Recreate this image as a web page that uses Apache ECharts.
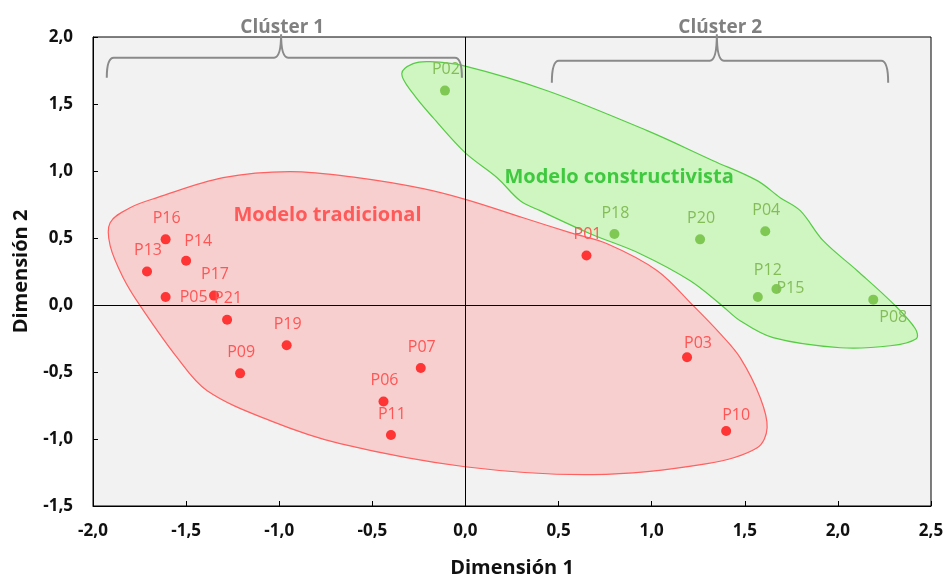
<!DOCTYPE html>
<html><head><meta charset="utf-8">
<script src="https://cdn.jsdelivr.net/npm/echarts@6/dist/echarts.min.js"></script>
<style>html,body{margin:0;padding:0;background:#fff}#c{width:947px;height:578px}</style>
</head><body><div id="c"></div>
<script>
// ---- data ----
const tradNames = ['P16','P13','P14','P05','P17','P21','P19','P09','P07','P06','P11','P01','P03','P10'];
const tradX = [-1.61,-1.71,-1.50,-1.61,-1.35,-1.28,-0.96,-1.21,-0.24,-0.44,-0.40,0.65,1.19,1.40];
const tradY = [0.49,0.25,0.33,0.06,0.07,-0.11,-0.30,-0.51,-0.47,-0.72,-0.97,0.37,-0.39,-0.94];
const consNames = ['P02','P18','P20','P04','P12','P15','P08'];
const consX = [-0.11,0.80,1.26,1.61,1.57,1.67,2.19];
const consY = [1.60,0.53,0.49,0.55,0.06,0.12,0.04];
const groupTitles = ['Modelo tradicional','Modelo constructivista'];
const clusterTitles = ['Clúster 1','Clúster 2'];
const xTitle = 'Dimensión 1';
const yTitle = 'Dimensión 2';

// ---- annotation geometry (data coordinates) ----
const redHull = [[-1.908,0.614],[-1.801,0.726],[-1.656,0.801],[-1.301,0.950],[-0.941,0.995],[-0.581,0.950],[-0.227,0.868],[0.004,0.786],[0.310,0.651],[0.562,0.540],[0.761,0.457],[1.030,0.256],[1.223,-0.005],[1.368,-0.214],[1.475,-0.393],[1.583,-0.692],[1.620,-0.916],[1.567,-1.065],[1.298,-1.184],[0.686,-1.266],[-0.002,-1.207],[-0.673,-1.035],[-1.049,-0.863],[-1.387,-0.640],[-1.548,-0.393],[-1.747,-0.005],[-1.838,0.204],[-1.908,0.443]];
const greenHull = [[-0.342,1.726],[-0.281,1.801],[-0.190,1.816],[-0.012,1.786],[0.439,1.599],[0.976,1.301],[1.330,1.077],[1.567,0.928],[1.690,0.801],[1.798,0.704],[1.921,0.480],[2.104,0.256],[2.297,0.010],[2.416,-0.177],[2.421,-0.251],[2.281,-0.304],[2.013,-0.319],[1.652,-0.244],[1.475,-0.117],[1.378,-0.005],[1.207,0.181],[0.938,0.383],[0.670,0.532],[0.401,0.704],[0.294,0.778],[0.170,0.950],[-0.002,1.137],[-0.174,1.398],[-0.281,1.577]];
const groupTitlePos = [[-0.741,0.667],[0.825,0.952]];
const brackets = [
  {xL:-1.926, xM:-0.990, xR:-0.019, yT:1.846, yB:1.696, yP:2.02, tx:-0.984, ty:2.069},
  {xL:0.464, xM:1.350, xR:2.270, yT:1.823, yB:1.659, yP:2.02, tx:1.368, ty:2.069}
];
const labelOffset = {P14:[12,-19], P05:[28,0], P15:[14,0], P08:[20,18], P03:[11,-14], P10:[10,-16], P12:[10,-27]};
const defaultOffset = [1,-21];

const FONT = '"Open Sans", "Noto Sans", sans-serif';
const RED_DOT = '#ff3434', RED_LBL = '#ff5555';
const GRN_DOT = '#80c854', GRN_LBL = '#84bd58';

function pts(names, xs, ys) {
  return names.map((n, i) => ({
    name: n, value: [xs[i], ys[i]],
    label: { offset: labelOffset[n] || defaultOffset }
  }));
}

const fmt = v => v.toFixed(1).replace('.', ',');

const chart = echarts.init(document.getElementById('c'), null, {renderer: 'canvas'});
chart.setOption({
  animation: false,
  backgroundColor: '#ffffff',
  grid: { left: 93, right: 16, top: 37, bottom: 72, containLabel: false, outerBoundsMode: 'none',
          show: true, backgroundColor: '#f2f2f2', borderColor: '#000', borderWidth: 1 },
  xAxis: {
    type: 'value', min: -2, max: 2.5, interval: 0.5,
    axisLine: { show: true, onZero: false, lineStyle: { color: '#000', width: 1 } },
    axisTick: { show: true, inside: true, length: 5, lineStyle: { color: '#000' } },
    axisLabel: { formatter: fmt, color: '#111', fontFamily: FONT, fontWeight: 'bold', fontSize: 17, margin: 17 },
    splitLine: { show: false },
    name: xTitle, nameLocation: 'middle', nameGap: 52,
    nameTextStyle: { color: '#111', fontFamily: FONT, fontWeight: 'bold', fontSize: 20 }
  },
  yAxis: {
    type: 'value', min: -1.5, max: 2, interval: 0.5,
    axisLine: { show: true, onZero: false, lineStyle: { color: '#000', width: 1 } },
    axisTick: { show: true, inside: true, length: 5, lineStyle: { color: '#000' } },
    axisLabel: { formatter: fmt, color: '#111', fontFamily: FONT, fontWeight: 'bold', fontSize: 17, margin: 20 },
    splitLine: { show: false },
    name: yTitle, nameLocation: 'middle', nameGap: 62,
    nameTextStyle: { color: '#111', fontFamily: FONT, fontWeight: 'bold', fontSize: 20 }
  },
  series: [
    {
      type: 'custom', coordinateSystem: 'cartesian2d', silent: true, z: 1,
      data: [[0, 0], [1, 0]],
      renderItem(params, api) {
        const i = params.dataIndex;
        const hull = i === 0 ? redHull : greenHull;
        return {
          type: 'polygon',
          shape: { points: hull.map(p => api.coord(p)), smooth: 0.35 },
          style: i === 0
            ? { fill: '#f7cfcf', stroke: '#ff6060', lineWidth: 1.2 }
            : { fill: '#cff5c1', stroke: '#55cc44', lineWidth: 1.2 }
        };
      }
    },
    {
      type: 'scatter', data: [], z: 2, silent: true,
      markLine: {
        silent: true, symbol: 'none', animation: false,
        label: { show: false },
        lineStyle: { color: '#000', width: 1, type: 'solid' },
        data: [{ xAxis: 0 }, { yAxis: 0 }]
      }
    },
    {
      type: 'scatter', name: groupTitles[0], z: 3, symbolSize: 10,
      itemStyle: { color: RED_DOT, opacity: 1 },
      label: { show: true, position: 'inside', formatter: '{b}', color: RED_LBL, fontFamily: FONT, fontSize: 16 },
      data: pts(tradNames, tradX, tradY)
    },
    {
      type: 'scatter', name: groupTitles[1], z: 3, symbolSize: 10,
      itemStyle: { color: GRN_DOT, opacity: 1 },
      label: { show: true, position: 'inside', formatter: '{b}', color: GRN_LBL, fontFamily: FONT, fontSize: 16 },
      data: pts(consNames, consX, consY)
    },
    {
      type: 'custom', coordinateSystem: 'cartesian2d', silent: true, z: 4, clip: false,
      data: [[0, 0]],
      renderItem(params, api) {
        const children = [];
        groupTitles.forEach((t, i) => {
          const p = api.coord(groupTitlePos[i]);
          children.push({
            type: 'text', x: p[0], y: p[1],
            style: { text: t, fill: i === 0 ? '#ff5a5a' : '#3fc93f', fontFamily: FONT, fontWeight: 'bold', fontSize: 20, align: 'center', verticalAlign: 'middle' }
          });
        });
        brackets.forEach((b, i) => {
          const L = api.coord([b.xL, b.yB]), LT = api.coord([b.xL, b.yT]);
          const M = api.coord([b.xM, b.yT]), P = api.coord([b.xM, b.yP]);
          const R = api.coord([b.xR, b.yB]), RT = api.coord([b.xR, b.yT]);
          const r = 7;
          const d = `M${L[0]} ${L[1]} Q${LT[0]} ${LT[1]} ${LT[0]+r} ${LT[1]} L${M[0]-r} ${M[1]} Q${M[0]} ${M[1]} ${P[0]} ${P[1]} Q${M[0]} ${M[1]} ${M[0]+r} ${M[1]} L${RT[0]-r} ${RT[1]} Q${RT[0]} ${RT[1]} ${R[0]} ${R[1]}`;
          children.push({ type: 'path', shape: { pathData: d }, style: { stroke: '#8a8a8a', fill: null, lineWidth: 2 } });
          const tp = api.coord([b.tx, b.ty]);
          children.push({
            type: 'text', x: tp[0], y: tp[1],
            style: { text: clusterTitles[i], fill: '#808080', fontFamily: FONT, fontWeight: 'bold', fontSize: 19, align: 'center', verticalAlign: 'middle' }
          });
        });
        return { type: 'group', children };
      }
    }
  ]
});
</script>
</body></html>
